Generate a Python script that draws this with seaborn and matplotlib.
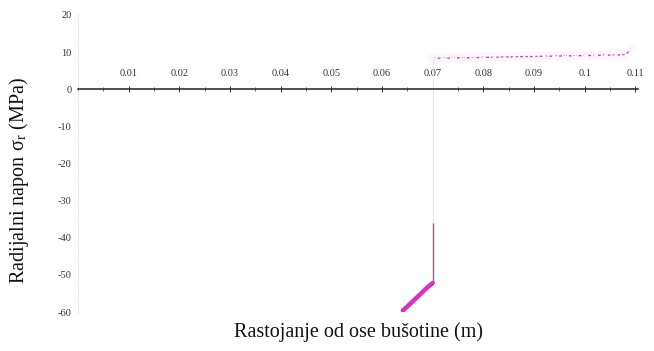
import numpy as np
import pandas as pd
import matplotlib
matplotlib.use("Agg")
import matplotlib.pyplot as plt
import seaborn as sns
from matplotlib.ticker import MultipleLocator, FixedLocator, FixedFormatter

sns.set_style("white")
plt.rcParams["font.family"] = ["Liberation Serif", "DejaVu Serif"]
plt.rcParams["mathtext.fontset"] = "stix"
plt.rcParams["axes.unicode_minus"] = False

# Plastic zone near the borehole wall
r_plastic = [0.0641, 0.0650, 0.0660, 0.0670, 0.0680, 0.0690, 0.0700]
s_plastic = [-59.6, -58.5, -57.2, -55.9, -54.6, -53.3, -52.2]

# Level reached by the darker part of the jump at the zone boundary
s_jump_mark = -36.0

# Elastic zone
r_elastic = [0.070, 0.072, 0.074, 0.076, 0.078, 0.080, 0.082, 0.084, 0.086,
             0.088, 0.090, 0.092, 0.094, 0.096, 0.098, 0.100, 0.102, 0.104,
             0.106, 0.108, 0.1092]
s_elastic = [8.3, 8.4, 8.4, 8.5, 8.5, 8.6, 8.6, 8.7, 8.7, 8.8, 8.8, 8.9,
             8.9, 9.0, 9.0, 9.1, 9.1, 9.2, 9.2, 9.3, 10.9]

x_ticks = [0.01, 0.02, 0.03, 0.04, 0.05, 0.06, 0.07, 0.08, 0.09, 0.10, 0.11]
x_tick_labels = ["0.01", "0.02", "0.03", "0.04", "0.05", "0.06", "0.07",
                 "0.08", "0.09", "0.1", "0.11"]
y_ticks = [20, 10, 0, -10, -20, -30, -40, -50, -60]

df_pl = pd.DataFrame({"r": r_plastic, "s": s_plastic})
df_el = pd.DataFrame({"r": r_elastic, "s": s_elastic})

fig = plt.figure(figsize=(6.54, 3.51), dpi=100)
ax = fig.add_axes([78 / 654, 1 - 312 / 351, (638 - 78) / 654, (312 - 15) / 351])

# jump at the plastic/elastic boundary
ax.vlines(r_plastic[-1], s_jump_mark, s_elastic[0], color="#ece2ea", lw=0.8, zorder=1)
ax.vlines(r_plastic[-1], s_plastic[-1], s_jump_mark, color="#8a6a7c", lw=1.0, zorder=2)

sns.lineplot(data=df_pl, x="r", y="s", ax=ax, color="#d633c2", lw=3.2,
             solid_capstyle="round", zorder=3)

# soft halo and dashed elastic curve
sns.lineplot(data=df_el, x="r", y="s", ax=ax, color="#f6c8ee", lw=7,
             alpha=0.15, zorder=2)
sns.lineplot(data=df_el, x="r", y="s", ax=ax, color="#c845b4", lw=1.0,
             linestyle=(0, (2, 1.5)), marker="+", markersize=3.5,
             markeredgewidth=0.9, zorder=4)

ax.set_xlim(0, 0.1105)
ax.set_ylim(-60, 20)

# x axis crosses at sigma = 0 with labels above it
for side in ["bottom", "right"]:
    ax.spines[side].set_visible(False)
ax.spines["top"].set_position(("data", 0))
ax.spines["top"].set_color("#222222")
ax.spines["top"].set_linewidth(1.1)
ax.spines["left"].set_color("#e2e2e2")
ax.spines["left"].set_linewidth(0.8)
ax.spines["left"].set_linestyle((0, (1, 2)))

ax.xaxis.set_ticks_position("top")
ax.xaxis.set_major_locator(FixedLocator(x_ticks))
ax.xaxis.set_major_formatter(FixedFormatter(x_tick_labels))
ax.xaxis.set_minor_locator(MultipleLocator(0.005))
ax.tick_params(axis="x", which="major", direction="inout", length=4, width=0.7,
               colors="#333333", labelsize=7.5, pad=6)
ax.tick_params(axis="x", which="minor", direction="inout", length=2.5, width=0.6,
               colors="#555555")

ax.yaxis.set_major_locator(FixedLocator(y_ticks))
ax.yaxis.set_minor_locator(MultipleLocator(5))
ax.tick_params(axis="y", which="major", direction="out", length=2.5, width=0.6,
               colors="#666666", labelsize=7.5, pad=2)
ax.tick_params(axis="y", which="minor", direction="out", length=2, width=0.6,
               colors="#999999")
for lbl in ax.get_yticklabels():
    lbl.set_color("#333333")
for lbl in ax.get_xticklabels():
    lbl.set_color("#333333")

ax.set_xlabel("Rastojanje od ose bušotine (m)", fontsize=14.5, color="#111111")
ax.xaxis.set_label_position("bottom")
ax.xaxis.set_label_coords(0.5, -0.035)
ax.set_ylabel(r"Radijalni napon σ$_\mathrm{r}$ (MPa)", fontsize=14.5, color="#111111")
ax.yaxis.set_label_coords(-0.084, 0.444)

fig.savefig("out.png", dpi=100)
